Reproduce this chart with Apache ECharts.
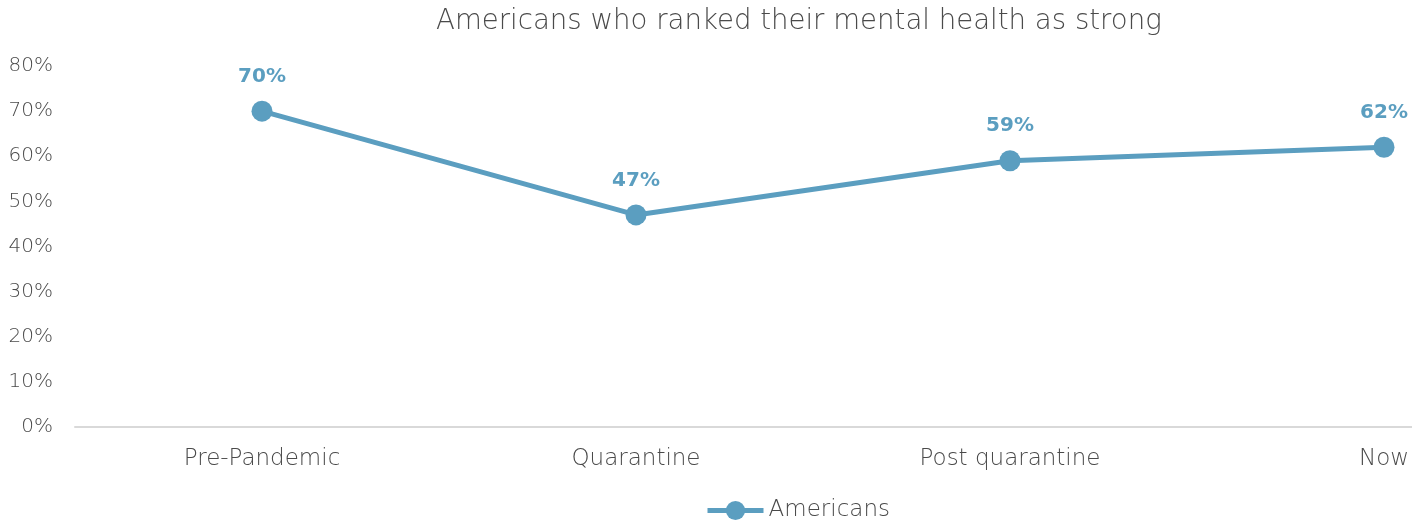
<!DOCTYPE html>
<html><head><meta charset="utf-8">
<script src="https://cdn.jsdelivr.net/npm/echarts@6/dist/echarts.min.js"></script>
<style>html,body{margin:0;padding:0;background:#fff}#c{width:1412px;height:521px}</style>
</head><body><div id="c"></div>
<script>
const categories = ['Pre-Pandemic', 'Quarantine', 'Post quarantine', 'Now'];
const americans = [70, 47, 59, 62];
const yTicks = [0, 10, 20, 30, 40, 50, 60, 70, 80];

const FONT = '"DejaVu Sans", sans-serif';
const BLUE = '#5B9EC0';
const GRAY = '#4a4a4a';
const chart = echarts.init(document.getElementById('c'));
chart.setOption({
  animation: false,
  title: {
    text: 'Americans who ranked their mental health as strong',
    left: 431, top: 3,
    textStyle: { fontFamily: FONT, fontSize: 27.6, fontWeight: 200, color: GRAY }
  },
  legend: {
    bottom: -6, left: 700,
    data: ['Americans'],
    itemWidth: 56, itemHeight: 24,
    lineStyle: { width: 5 },
    textStyle: { fontFamily: FONT, fontSize: 23, fontWeight: 200, color: GRAY },
    itemGap: 2
  },
  grid: { left: 75, top: 66, bottom: 94, right: -159, outerBoundsMode: 'none', containLabel: false },
  xAxis: {
    type: 'category', data: categories, boundaryGap: true,
    axisLine: { lineStyle: { color: '#D9D9D9', width: 2 } },
    axisTick: { show: false },
    axisLabel: { fontFamily: FONT, fontSize: 23, fontWeight: 200, color: GRAY, margin: 21 }
  },
  yAxis: {
    type: 'value', min: yTicks[0], max: yTicks[yTicks.length - 1], interval: 10,
    axisLine: { show: false }, axisTick: { show: false }, splitLine: { show: false },
    axisLabel: { fontFamily: FONT, fontSize: 20, fontWeight: 200, color: GRAY, margin: 22, formatter: v => v + '%' }
  },
  series: [{
    name: 'Americans', type: 'line', data: americans,
    symbol: 'circle', symbolSize: 21,
    lineStyle: { color: BLUE, width: 5 },
    itemStyle: { color: BLUE },
    label: {
      show: true, position: 'top', distance: 14,
      formatter: p => p.value + '%',
      fontFamily: FONT, fontSize: 20, fontWeight: 'bold', color: BLUE
    }
  }]
});
</script></body></html>
